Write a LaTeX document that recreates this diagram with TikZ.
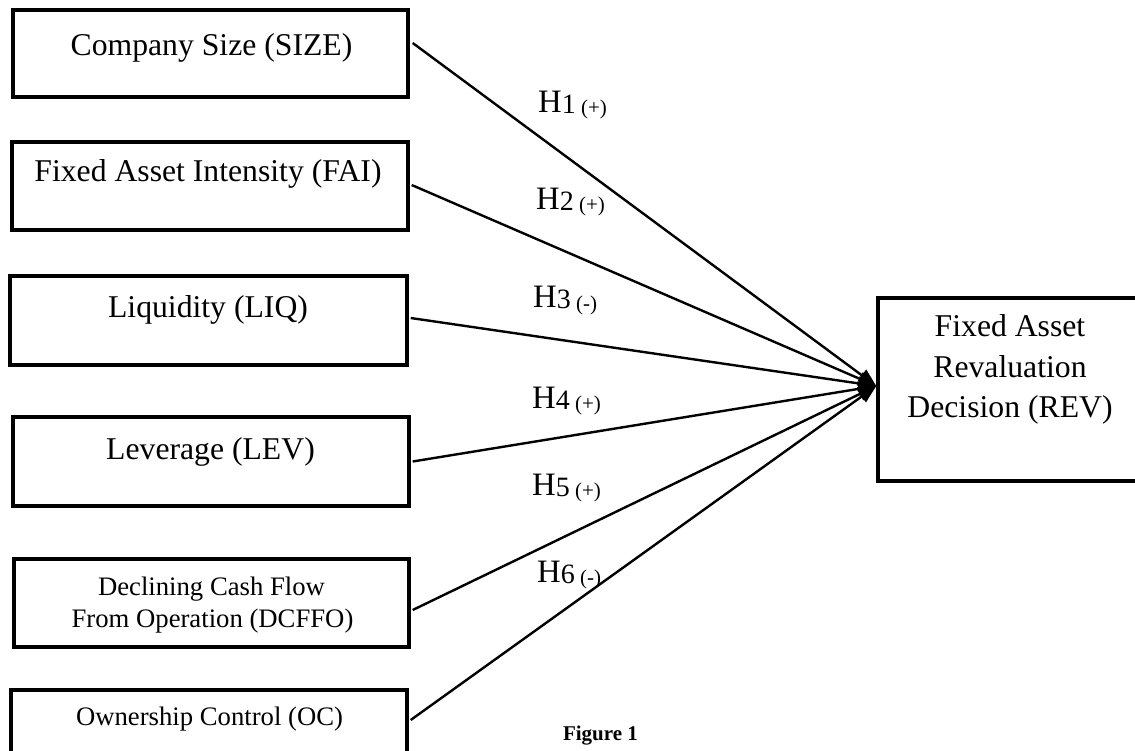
\documentclass[tikz,border=0pt]{standalone}
\usepackage{fontspec}
\setmainfont{Liberation Serif}
\usetikzlibrary{arrows.meta}
\newcommand{\hypo}[2]{H\raisebox{-1pt}{\fontsize{28}{30}\selectfont #1}\raisebox{-2pt}{\fontsize{21}{24}\selectfont\ #2}}
\begin{document}
\begin{tikzpicture}[x=1pt,y=-1pt,
  box/.style={draw, line width=3.4pt, inner sep=0pt},
  big/.style={font=\fontsize{31.7}{40}\selectfont, inner sep=0pt, anchor=base},
  small/.style={font=\fontsize{26.7}{32}\selectfont, inner sep=0pt, anchor=base},
  hyp/.style={font=\fontsize{32.7}{36}\selectfont, inner sep=0pt, anchor=base west},
  link/.style={line width=2.4pt, -{Triangle[length=18pt,width=14pt]}}]
\useasboundingbox (0,0) rectangle (1135,751);
% boxes
\node[box, minimum width=395pt, minimum height=87pt] (b1) at (210.5,53.5) {};
\node[box, minimum width=396pt, minimum height=88pt] (b2) at (210,186) {};
\node[box, minimum width=397pt, minimum height=89pt] (b3) at (208.5,320.5) {};
\node[box, minimum width=396pt, minimum height=89pt] (b4) at (211,461.5) {};
\node[box, minimum width=395pt, minimum height=88pt] (b5) at (211.5,603) {};
\node[box, minimum width=396pt, minimum height=90pt] (b6) at (209,735) {};
\node[box, minimum width=282pt, minimum height=183pt] (rev) at (1019,389.5) {};
% texts
\node[big] (t1) at (211.5,56) {Company Size (SIZE)};
\node[big] (t2) at (208,182) {Fixed Asset Intensity (FAI)};
\node[big] (t3) at (208,317) {Liquidity (LIQ)};
\node[big] (t4) at (210.5,459) {Leverage (LEV)};
\node[small] (t5a) at (211.5,595) {Declining Cash Flow};
\node[small] (t5b) at (212.5,627) {From Operation (DCFFO)};
\node[small] (t6) at (209.5,725) {Ownership Control (OC)};
\node[big] (tr1) at (1010,337) {Fixed Asset};
\node[big] (tr2) at (1010,377) {Revaluation};
\node[big] (tr3) at (1010,417) {Decision (REV)};
% connectors
\coordinate (tip) at ([yshift=3.5pt]rev.west);
\draw[link] ([xshift=3pt,yshift=10.5pt]b1.east) -- (tip);
\draw[link] ([xshift=2pt,yshift=1pt]b2.east) -- (tip);
\draw[link] ([xshift=2pt,yshift=2.5pt]b3.east) -- (tip);
\draw[link] ([xshift=2pt]b4.east) -- (tip);
\draw[link] ([xshift=2pt,yshift=-7pt]b5.east) -- (tip);
\draw[link] ([xshift=2pt,yshift=15pt]b6.east) -- (tip);
% hypothesis labels
\node[hyp] (h1) at (538,113) {\hypo{1}{(+)}};
\node[hyp] (h2) at (536,210) {\hypo{2}{(+)}};
\node[hyp] (h3) at (533,308) {\hypo{3}{(-)}};
\node[hyp] (h4) at (532,408) {\hypo{4}{(+)}};
\node[hyp] (h5) at (532,495) {\hypo{5}{(+)}};
\node[hyp] (h6) at (537,582) {\hypo{6}{(-)}};
% caption
\node[font=\bfseries\fontsize{21}{24}\selectfont, inner sep=0pt, anchor=base] (cap) at (600.5,740) {Figure 1};
\end{tikzpicture}
\end{document}
